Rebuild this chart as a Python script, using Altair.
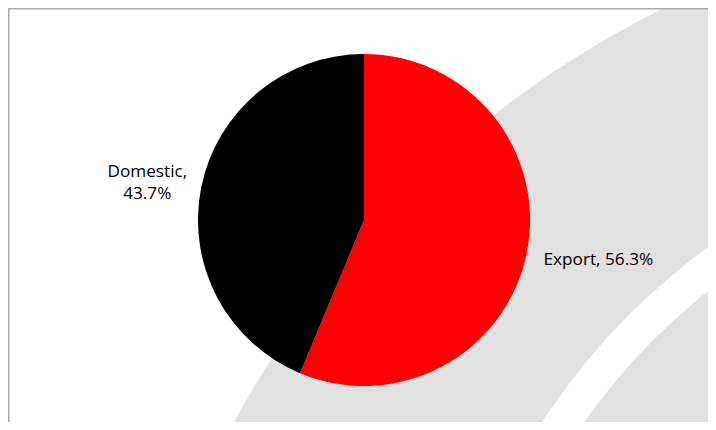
import altair as alt
import pandas as pd

# ---- data ----
categories = ["Export", "Domestic"]
shares = [56.3, 43.7]
colors = ["#ff0000", "#000000"]
label_sep = [", ", ",\n"]

df = pd.DataFrame({
    "category": categories,
    "share": shares,
    "idx": list(range(len(categories))),
    "label": [f"{c}{s}{v}%" for c, s, v in zip(categories, label_sep, shares)],
})

W, H = 700, 414
CX, CY, R = 356, 212, 166

one = pd.DataFrame({"a": [0]})

# background decoration
grey_disk = alt.Chart(one).mark_arc(
    color="#e1e1e1", theta=0, theta2=6.2832, outerRadius=982, innerRadius=0
).encode(x=alt.value(1090), y=alt.value(881))

white_band = alt.Chart(one).mark_arc(
    color="#ffffff", theta=0, theta2=6.2832, outerRadius=655, innerRadius=620
).encode(x=alt.value(1084), y=alt.value(770))

frame = alt.Chart(one).mark_rect(
    fill=None, stroke="#a9a9a9", strokeWidth=1.5
).encode(x=alt.value(0.75), y=alt.value(0.75), x2=alt.value(760), y2=alt.value(470))

base = alt.Chart(df).encode(
    theta=alt.Theta("share:Q", stack=True),
    order=alt.Order("idx:Q"),
    x=alt.value(CX),
    y=alt.value(CY),
)

pie = base.mark_arc(outerRadius=R, stroke=None).encode(
    color=alt.Color("category:N", scale=alt.Scale(domain=categories, range=colors), legend=None)
)

font = "Open Sans"
FS = 17.2
export_lbl = base.mark_text(
    radius=239, dy=-7, font=font, fontSize=FS, color="#000000", align="center", baseline="middle"
).encode(text=alt.condition(alt.datum.category == "Export", alt.Text("label:N"), alt.value("")))

dom_lbl = base.mark_text(
    radius=221, dy=-5, font=font, fontSize=FS, color="#000000", align="center", baseline="middle",
    lineBreak="\n", lineHeight=22.5
).encode(text=alt.condition(alt.datum.category == "Domestic", alt.Text("label:N"), alt.value("")))

chart = alt.layer(grey_disk, white_band, frame, pie, export_lbl, dom_lbl).properties(
    width=W, height=H, padding=0, autosize=alt.AutoSizeParams(type="none"), background="white"
).configure_view(stroke=None)

chart.save("out.html", embed_options={"renderer": "svg", "actions": False})
